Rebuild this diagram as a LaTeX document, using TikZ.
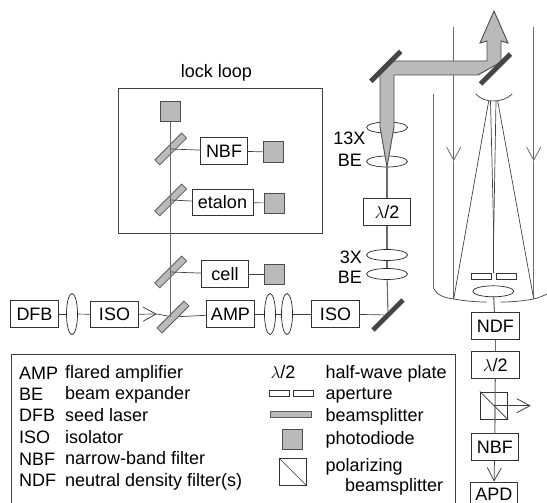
\documentclass[tikz,border=0pt]{standalone}
\usepackage{fontspec}
\setmainfont{Liberation Sans}
\usetikzlibrary{arrows.meta,shapes.geometric}
\definecolor{diodegray}{gray}{0.73}
\definecolor{beamgray}{gray}{0.42}
\definecolor{mirrorgray}{gray}{0.27}
\tikzset{
  unitbox/.style={draw=black!80, line width=0.8pt, fill=white, minimum width=47.5pt, minimum height=26.5pt, inner sep=0pt, font=\fontsize{18}{20}\selectfont},
  diode/.style={draw=black!70, line width=1pt, fill=diodegray, minimum size=20pt, inner sep=0pt},
  splitter/.style={draw=black!65, line width=0.8pt, fill=diodegray, minimum width=38pt, minimum height=7pt, inner sep=0pt, rotate=45},
  mirror/.style={draw=black!70, fill=mirrorgray, minimum width=42pt, minimum height=4.5pt, inner sep=0pt, rotate=45},
  hlens/.style={ellipse, draw=black!85, line width=0.7pt, fill=white, minimum width=41pt, minimum height=11pt, inner sep=0pt},
  vlens/.style={ellipse, draw=black!85, line width=0.7pt, fill=white, minimum width=11pt, minimum height=41pt, inner sep=0pt},
  slit/.style={draw=black!80, line width=0.7pt, fill=white, minimum width=19.5pt, minimum height=6pt, inner sep=0pt},
  cube/.style={draw=black!80, line width=0.8pt, minimum size=27.5pt, inner sep=0pt},
  label/.style={inner sep=0pt, font=\fontsize{18}{20}\selectfont},
  keytext/.style={label, anchor=base west},
  beam/.style={draw=beamgray, line width=1.1pt},
  ray/.style={draw=black!75, line width=0.7pt},
  chevron/.style={-{Straight Barb[length=13pt, width=14pt, line width=0.8pt]}}
}
\begin{document}
\begin{tikzpicture}[x=1pt, y=-1pt]
  \clip (0,0) rectangle (547,503);
  \useasboundingbox (0,0) rectangle (547,503);
  % lock loop frame and legend frame
  \node[label] (looptitle) at (216.5,73) {lock loop};
  \node[draw=black!75, line width=0.8pt, minimum width=203.5pt, minimum height=145pt, inner sep=0pt] (loopframe) at (220.5,160.5) {};
  \node[draw=black!75, line width=0.8pt, minimum width=443.5pt, minimum height=160pt, inner sep=0pt] (keyframe) at (233.5,434) {};
  % laser line
  \node[unitbox] (dfb) at (34.5,314) {DFB};
  \node[vlens] (lensa) at (72,314) {};
  \node[unitbox] (isoa) at (114.5,314.5) {ISO};
  \node[splitter] (bsd) at (173,317) {};
  \node[unitbox] (amp) at (230.5,314) {AMP};
  \node[vlens] (lensb) at (270,314) {};
  \node[vlens] (lensc) at (287,314) {};
  \node[unitbox] (isob) at (335.5,314) {ISO};
  \node[mirror] (mirrorc) at (388,315) {};
  % lock loop arms
  \node[diode] (pdtop) at (170.7,112) {};
  \node[splitter] (bsa) at (170.7,149) {};
  \node[unitbox] (nbfa) at (224,151) {NBF};
  \node[diode] (pda) at (273,152) {};
  \node[splitter] (bsb) at (170.7,200) {};
  \node[unitbox, minimum width=61pt] (etalon) at (222.5,202.5) {etalon};
  \node[diode] (pdb) at (274,203) {};
  \node[splitter] (bsc) at (170.7,272) {};
  \node[unitbox] (cell) at (225,274) {cell};
  \node[diode] (pdc) at (274,274) {};
  % expander column
  \node[hlens] (lensd) at (387,255) {};
  \node[hlens] (lense) at (387,274) {};
  \node[unitbox] (plate) at (387,212) {$\lambda$/2};
  \node[hlens] (lensf) at (387,161.5) {};
  \node[hlens] (lensg) at (387,127.5) {};
  \node[label, anchor=east] (labela) at (365.5,138) {13X};
  \node[label, anchor=east] (labelb) at (362,160) {BE};
  \node[label, anchor=east] (labelc) at (362,257) {3X};
  \node[label, anchor=east] (labeld) at (362,277) {BE};
  % telescope rays
  \coordinate (leftwall) at (433.7,94);
  \coordinate (wallend) at (433.7,288);
  \coordinate (rayatop) at (453.7,27);
  \coordinate (rayamid) at (453.7,161);
  \coordinate (rayaend) at (453.7,299);
  \coordinate (raybtop) at (533.7,27);
  \coordinate (raybmid) at (533.7,161);
  \coordinate (raybend) at (533.7,299);
  \coordinate (focus) at (493.7,233);
  \draw[beam, chevron] (rayatop) -- (rayamid);
  \draw[beam] (rayamid) -- (rayaend);
  \draw[beam, chevron] (raybtop) -- (raybmid);
  \draw[beam] (raybmid) -- (raybend);
  \draw[beam] (leftwall) -- (wallend);
  % primary and secondary mirror
  \draw[ray] (wallend) .. controls (436,295) and (445,298) .. (rayaend) .. controls (465,301) and (476,302) .. (486.7,302);
  \draw[ray] (500.7,302) .. controls (512,302) and (523,301) .. (raybend) .. controls (538,298) and (543,296) .. (547,294);
  \draw[ray] (475.7,94) .. controls (481,99) and (486,101) .. (493,101) .. controls (500,101) and (507,99) .. (512.3,94);
  \draw[ray] (488.7,101) -- (rayaend);
  \draw[ray] (497.7,101) -- (raybend);
  \draw[ray] (490.5,101) -- (focus);
  \draw[ray] (496,101) -- (focus);
  \node[slit] (slita) at (481.3,276.3) {};
  \node[slit] (slitb) at (506.2,276.3) {};
  \draw[ray] (focus) -- (493.7,273);
  \node[hlens] (lensh) at (493.3,291.3) {};
  % output beam
  \filldraw[fill=diodegray, draw=black!70, line width=0.9pt] (387,167) -- (380,127) -- (380,70) -- (391,61) -- (487,61) -- (487,41) -- (480,43) -- (494,11) -- (508,43) -- (501,41) -- (501,62) -- (478,75) -- (394,75) -- (394,127) -- cycle;
  \node[mirror] (mirrora) at (385.8,66.3) {};
  \node[mirror] (mirrorb) at (495.5,69) {};
  % detector column
  \node[unitbox] (ndf) at (495.3,326) {NDF};
  \node[unitbox] (platec) at (495.3,365) {$\lambda$/2};
  \node[cube] (pbs) at (494,405.7) {};
  \node[unitbox] (nbfb) at (494.8,447) {NBF};
  \node[unitbox, minimum height=24pt] (apd) at (493.8,494) {APD};
  \draw[line width=0.7pt, draw=black!80] (pbs.north west) -- (pbs.south east);
  \coordinate (sideport) at (530.7,405.7);
  % connectors
  \draw[ray] (dfb) -- (lensa);
  \draw[ray] (lensa) -- (isoa);
  \coordinate (isotip) at (157,314);
  \draw[ray, chevron] (isoa) -- (isotip);
  \draw[ray] (isotip) -- (bsd);
  \draw[ray] (bsd) -- (amp);
  \draw[ray] (amp) -- (lensb);
  \draw[ray] (lensb) -- (lensc);
  \draw[ray] (lensc) -- (isob);
  \draw[ray] (isob) -- (mirrorc);
  \draw[beam] (mirrorc) -- (lense);
  \draw[beam] (lense) -- (lensd);
  \draw[beam] (lensd) -- (plate);
  \draw[beam] (plate) -- (lensf);
  \draw[beam] (pdtop) -- (bsd.center -| pdtop);
  \draw[ray] (bsa.center) -- (nbfa);
  \draw[ray] (nbfa) -- (pda);
  \draw[ray] (bsb.center) -- (etalon);
  \draw[ray] (etalon) -- (pdb);
  \draw[ray] (bsc.center) -- (cell);
  \draw[ray] (cell) -- (pdc);
  \draw[beam] (lensh) -- (ndf);
  \draw[beam] (ndf) -- (platec);
  \draw[beam] (platec) -- (nbfb);
  \draw[ray, chevron] (pbs.center) -- (sideport);
  \draw[ray, chevron] (nbfb) -- (apd);
  % legend abbreviations
  \node[keytext] (keyamp) at (19,379) {AMP};
  \node[keytext] (keybe) at (19,400) {BE};
  \node[keytext] (keydfb) at (19,421.7) {DFB};
  \node[keytext] (keyiso) at (19,443.3) {ISO};
  \node[keytext] (keynbf) at (19,465) {NBF};
  \node[keytext] (keyndf) at (19,486.7) {NDF};
  \node[keytext] (txtamp) at (65,378) {flared amplifier};
  \node[keytext] (txtbe) at (65,399.5) {beam expander};
  \node[keytext] (txtdfb) at (65,421) {seed laser};
  \node[keytext] (txtiso) at (65,443) {isolator};
  \node[keytext] (txtnbf) at (65,464) {narrow-band filter};
  \node[keytext] (txtndf) at (65,486) {neutral density filter(s)};
  % legend symbols
  \node[label] (keyplate) at (283,372) {$\lambda$/2};
  \node[slit, minimum width=20pt] (keyslita) at (279.3,393.8) {};
  \node[slit, minimum width=20pt] (keyslitb) at (303.7,393.8) {};
  \node[splitter, rotate=-45, minimum width=41pt, minimum height=6pt] (keybs) at (291.2,414.7) {};
  \node[diode] (keypd) at (292.5,439) {};
  \node[cube] (keypbs) at (293,472) {};
  \draw[line width=0.7pt, draw=black!80] (keypbs.north west) -- (keypbs.south east);
  \node[keytext] (txtplate) at (325.3,378) {half-wave plate};
  \node[keytext] (txtslit) at (325.3,399) {aperture};
  \node[keytext] (txtbs) at (325.3,421.7) {beamsplitter};
  \node[keytext] (txtpd) at (325.3,444) {photodiode};
  \node[keytext] (txtpbs) at (325.3,471.7) {polarizing};
  \node[keytext] (txtpbsb) at (345,491.7) {beamsplitter};
\end{tikzpicture}
\end{document}
